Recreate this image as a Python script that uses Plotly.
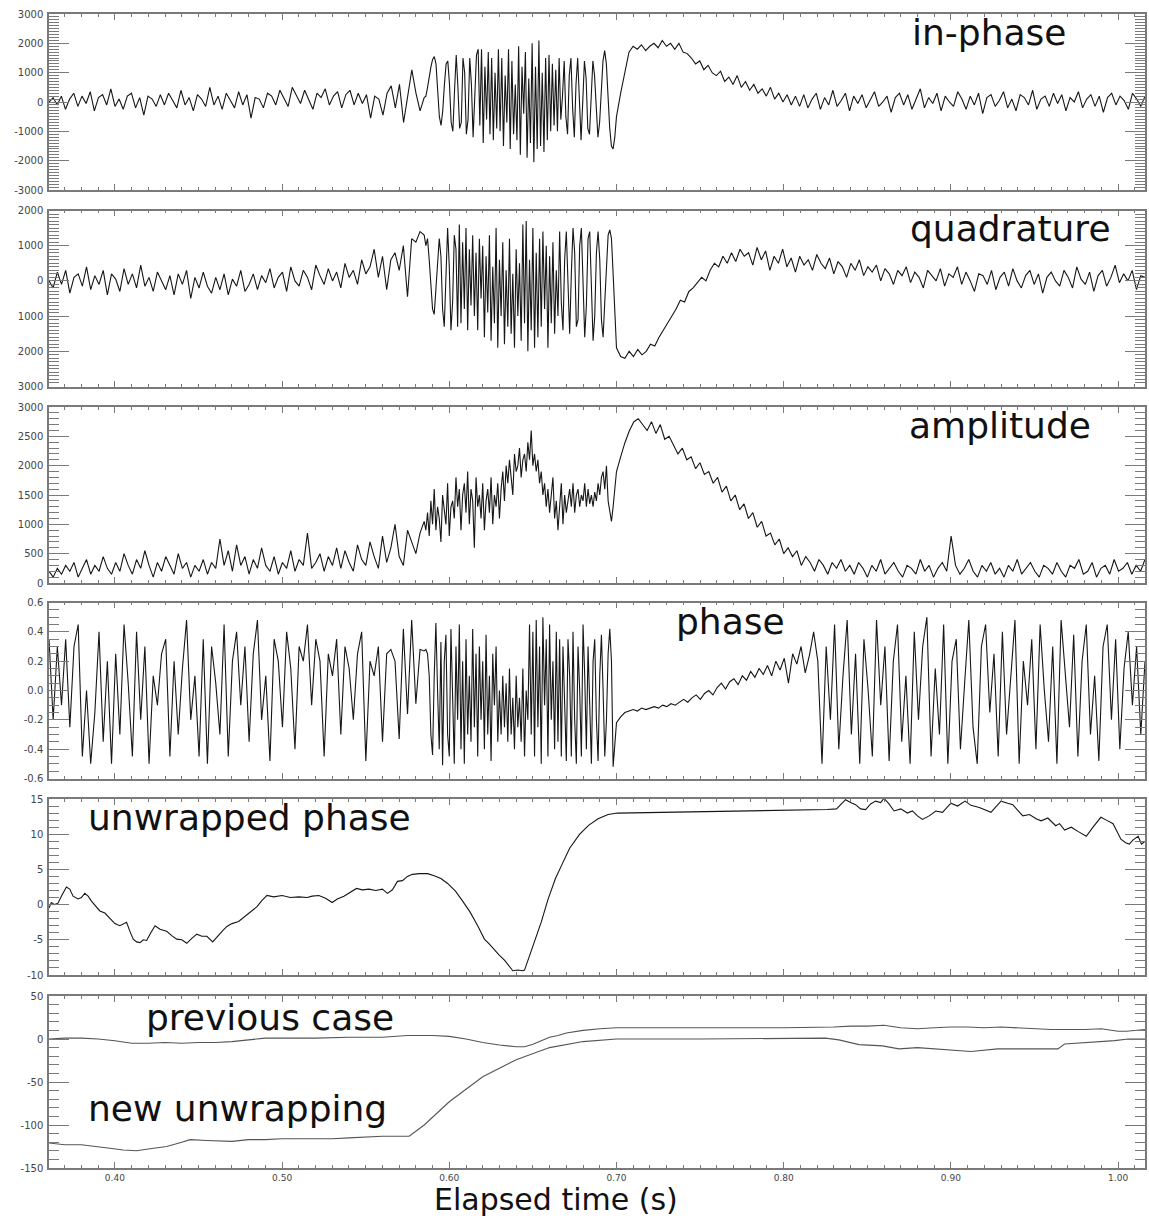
import numpy as np
import plotly.graph_objects as go

# ---------------- time segments (s) ----------------
SEG_A = (0.3606, 0.585)
SEG_B = (0.586, 0.700)
SEG_C = (0.7025, 1.0161)
X_RANGE = [0.3606, 1.0161]

# ---------------- in-phase ----------------
IP_A = [0, 150, -100, 200, -250, 100, 300, -150, 200, -50, 350, -300, 150, 250, -100, 450, -150, 100, -250, 200,
        300, -200, 150, -450, 200, 100, -150, 250, -100, 300, 50, -200, 400, -100, 150, -300, 250, 100, -150, 500,
        -100, 200, -250, 300, 50, -200, 350, -100, 250, -550, 150, 100, -200, 300, 200, -100, 400, 150, -150, 500,
        250, -50, 400, 100, -250, 300, 150, 450, -100, 200, 350, -200, 250, 400, -100, 300, -50, 250, -550, 200,
        100, -450, 300, 550, -200, 600, -700, 200, 1100, 300, -300, 150]
IP_B = [200, 500, 900, 1200, 1450, 1550, 1300, 400, -500, -800, -300, 600, 1300, 1400, 600, -700, -1000, 400, 1600, 500,
        -900, -700, 1500, 1000, -1100, -600, 1500, 600, -1200, 200, 1600, 1800, -800, 1800, -1400, 1200, -600, 1700, -1100, 1500,
        -1300, 1000, -900, 1800, -1000, 1500, -1500, 900, -700, 1800, -1600, 1400, -1100, 600, -1300, 1900, -1800, 1200, -400, 1700,
        -1900, 800, -1400, 2000, -2050, 1200, -1600, 2100, -1500, 1000, -1700, 1500, -1300, 1600, -1000, 1300, -800, 1100, -1000, 1500,
        -600, 200, 1400, -500, -1100, 900, 1500, -200, -1200, 600, 1500, 100, -1300, 0, 1400, 800, -900, -1100, 500, 1400,
        900, -400, -1200, -700, 500, 1400, 1750, 1300, 200, -900, -1500, -1600, -1200, -500]
IP_C = [300, 1000, 1700, 1900, 1800, 1950, 1750, 1900, 2000, 1850, 2100, 1900, 2000, 1800, 2000, 1700, 1650, 1500, 1300, 1400,
        1100, 1250, 1000, 900, 1050, 700, 850, 600, 900, 500, 700, 400, 600, 300, 450, 200, 500, 100, 300, 0,
        250, -100, 200, -150, 250, -200, 100, 300, -250, 150, -100, 400, -150, 50, 300, -300, 200, -50, 250, -200,
        100, 350, -150, 0, 200, -350, 150, 300, -100, 250, -250, 100, 450, -200, 150, -50, 300, -300, 200, 0,
        -150, 350, 100, -250, 200, -100, 300, -400, 150, 250, -150, 50, 350, -200, 100, -300, 250, 150, -100, 400,
        -250, 100, 200, -150, 300, -50, 250, -300, 150, 0, 350, -200, 100, 250, -150, 200, -350, 150, 300, -100,
        200, 50, -250, 300, 100, -150, 200]

# ---------------- quadrature ----------------
QD_A = [0, -200, 250, -100, 300, -350, 100, 200, -150, 400, -250, 150, -100, 300, -400, 200, 50, -300, 350, -100,
        200, -200, 450, -150, 100, -300, 250, 0, -250, 150, -400, 200, -100, 300, -500, 100, -200, 250, -150, -350,
        100, -250, 200, -400, 50, -150, 300, -300, -100, 200, -250, 150, -50, 350, -200, 100, 250, -300, 400, 0,
        -150, 300, 100, -250, 450, 150, -100, 350, 0, 250, -200, 500, 100, 300, -100, 600, 200, 400, 900, 100,
        700, -250, 600, 800, 300, 1000, -450, 1200, 1100, 1400, 1300]
QD_B = [1000, 1200, 600, -200, -800, -950, -300, 600, 1200, 700, -800, -1300, 200, 1500, 400, -1400, -600, 1300, 900, -1300,
        1600, -1200, 1100, -800, 1500, -1400, 900, -700, 1300, -1000, 800, -1400, 1200, -500, 1000, -1600, 700, -900, 1300, -1700,
        400, -1200, 1500, -1900, 600, -1000, 1100, -1800, 300, -1300, 1200, -1500, 200, -1900, 900, -1000, 500, -1700, 1600, -1200,
        1700, -2000, 600, -1400, 1500, -1900, 800, -1600, 1200, -1300, 1400, -800, 1000, -1900, 700, -1200, 1100, -1500, 300, -1000,
        1400, -600, -1400, 600, 1400, -300, -1500, 200, 1500, 800, -1300, -1100, 1000, 1500, -200, -1600, -700, 1200, 1400, -500,
        -1700, -1000, 800, 1400, 600, -1100, -1600, -600, 600, 1300, 1450, 1200, 200, -1000, -1900]
QD_C = [-2150, -2200, -2000, -2150, -1950, -2100, -2000, -1800, -1850, -1600, -1400, -1200, -1000, -800, -550, -600, -300, -200, -50, 100,
        0, 300, 500, 400, 700, 500, 800, 550, 900, 700, 800, 450, 950, 600, 850, 300, 700, 500, 900, 400,
        650, 250, 700, 450, 600, 300, 750, 500, 350, 650, 200, 550, 400, 100, 500, 300, 600, 150, 400, 250,
        450, 0, 350, 200, -100, 300, 150, 400, -50, 250, 100, -200, 300, 150, 0, 350, -150, 200, 100, 400,
        -100, 250, 0, -300, 200, 150, -100, 300, -250, 100, 250, -150, 350, 0, -200, 150, 300, -100, 200, -350,
        100, 250, 0, -150, 300, 100, -200, 400, 50, -100, 250, -300, 150, 300, -150, 100, 450, -50, 200, 0,
        300, -250, 150, 100]

# ---------------- amplitude ----------------
AM_A = [200, 100, 250, 150, 300, 200, 350, 100, 250, 400, 150, 300, 200, 450, 250, 150, 350, 200, 500, 300,
        150, 400, 250, 550, 300, 100, 350, 200, 450, 300, 150, 500, 250, 350, 100, 300, 200, 400, 150, 350,
        250, 750, 300, 550, 200, 650, 300, 450, 150, 400, 250, 600, 300, 200, 450, 150, 350, 250, 550, 200,
        400, 300, 850, 250, 350, 500, 200, 450, 300, 600, 250, 550, 350, 200, 650, 400, 300, 700, 450, 250,
        800, 350, 600, 1000, 450, 300, 900, 700, 500, 850, 1050]
AM_B = [900, 1200, 800, 1400, 1000, 1600, 900, 1300, 1100, 700, 1500, 1200, 1000, 1700, 800, 1300,
        1400, 1100, 1800, 1300, 1600, 900, 1500, 1700, 1200, 1900, 1000, 1600, 1400, 600, 1800, 1300, 1500, 1100, 1700,
        900, 1400, 1600, 1200, 1800, 1000, 1500, 1300, 1700, 1100,
        1600, 1900, 1400, 2000, 1700, 2100, 1800, 1500, 2200, 1900, 2000, 2300, 1800, 2100, 2200, 1900, 2400, 2100, 2600, 2000,
        2200, 1900, 2100, 1700, 1900, 1500, 1700, 1300, 1600, 1200, 1500, 1800, 1100, 1400, 900, 1300, 1700, 1000, 1500, 1200,
        1400, 1600, 1300, 1700, 1200, 1500, 1600, 1300, 1500, 1400, 1700, 1300, 1600, 1350, 1500, 1300, 1550, 1400, 1700, 1500,
        1800, 1900, 1600, 2000, 1400, 1200, 1050, 1300, 1600, 1900]
AM_C = [2150, 2400, 2600, 2750, 2800, 2700, 2600, 2750, 2550, 2700, 2450, 2500, 2350, 2200, 2300, 2100, 2150, 1950, 2050, 1850,
        1900, 1700, 1800, 1550, 1650, 1400, 1500, 1250, 1350, 1100, 1200, 950, 1050, 800, 850, 650, 750, 500, 600, 450,
        550, 300, 450, 350, 200, 400, 300, 150, 350, 250, 400, 200, 300, 150, 350, 250, 100, 300, 200, 400,
        150, 250, 350, 200, 100, 300, 250, 150, 400, 200, 300, 100, 250, 350, 200, 800, 300, 150, 250, 400,
        200, 100, 300, 200, 350, 150, 250, 100, 300, 200, 400, 150, 250, 350, 200, 100, 300, 250, 150, 350,
        200, 100, 300, 250, 400, 150, 200, 350, 100, 250, 300, 150, 400, 200, 250, 350, 150, 300, 200, 400]

# ---------------- phase ----------------
PH_A = [0.35, -0.2, 0.3, -0.1, 0.35, -0.25, 0.3, 0.45, -0.45, 0.0, -0.5, -0.15, 0.4, -0.35, 0.2, -0.5, 0.25, -0.3, 0.45, 0.05,
        -0.45, 0.4, -0.2, 0.3, -0.5, 0.1, -0.1, 0.25, 0.35, -0.45, 0.2, -0.3, 0.15, 0.48, -0.2, 0.1, -0.45, 0.35, -0.5, 0.3,
        0.05, -0.3, 0.45, -0.45, 0.2, 0.4, -0.1, 0.3, -0.35, 0.25, 0.48, -0.2, 0.1, -0.48, 0.35, 0.2, -0.25, 0.4, 0.15, -0.4,
        0.3, 0.2, 0.45, -0.1, 0.35, 0.2, -0.45, 0.25, 0.1, 0.35, -0.3, 0.3, 0.15, -0.2, 0.25, 0.4, -0.48, 0.2, 0.1, 0.3,
        -0.35, 0.25, 0.28, 0.2, -0.33, 0.42, -0.16, 0.48, -0.09, 0.28, 0.27]
PH_B = [0.28, 0.25, 0.1, -0.3, -0.44, 0.1, 0.46, 0.0, -0.40, 0.33, -0.51, 0.2, 0.38, -0.3, -0.45, 0.42, -0.1, -0.5, 0.3, -0.2,
        0.45, -0.4, 0.2, -0.5, 0.35, -0.3, 0.1, -0.35, 0.42, -0.25, 0.25, -0.45, 0.3, -0.2, 0.2, -0.4, 0.38, -0.3, 0.1, -0.48,
        0.25, -0.1, 0.3, -0.35, 0.0, -0.3, 0.1, -0.25, 0.05, -0.35, 0.15, -0.3, -0.05, -0.4, 0.1, -0.25, -0.05, -0.35, 0.15, -0.45,
        0.0, -0.2, 0.45, -0.3, 0.4, -0.45, 0.48, -0.25, 0.3, -0.5, 0.5, -0.1, 0.35, -0.45, 0.45, -0.2, 0.2, -0.4, 0.4, -0.35,
        0.35, -0.45, 0.3, -0.1, -0.48, 0.35, 0.1, -0.45, 0.4, -0.2, -0.5, 0.3, 0.0, -0.45, 0.45, 0.1, -0.4, 0.3, -0.1, -0.5,
        0.2, 0.35, -0.2, -0.48, 0.1, 0.38, 0.0, -0.45, -0.2, 0.25, 0.42, 0.2, -0.52, -0.35, -0.22]
PH_C = [-0.18, -0.15, -0.14, -0.13, -0.14, -0.12, -0.13, -0.12, -0.11, -0.12, -0.10, -0.11, -0.09, -0.10, -0.08, -0.06, -0.08, -0.05, -0.03, -0.06,
        -0.02, 0.0, -0.03, 0.02, 0.05, 0.01, 0.06, 0.08, 0.04, 0.1, 0.07, 0.13, 0.09, 0.15, 0.11, 0.17, 0.1, 0.2, 0.14, 0.22,
        0.05, 0.25, 0.18, 0.3, 0.12, 0.24, 0.4, 0.2,
        -0.5, 0.3, -0.2, 0.45, -0.4, 0.1, 0.48, -0.3, 0.25, -0.5, 0.35, 0.0, -0.45, 0.48, -0.1, 0.3, -0.48, 0.2, 0.45, -0.35,
        0.1, -0.5, 0.4, -0.2, 0.3, 0.5, -0.45, 0.15, -0.3, 0.45, -0.5, 0.2, 0.35, -0.4, 0.05, 0.48, -0.25, -0.5, 0.3, 0.45,
        -0.15, 0.25, -0.45, 0.4, -0.3, 0.1, 0.48, -0.5, 0.2, -0.1, 0.35, -0.4, 0.45, 0.0, -0.35, 0.3, -0.5, 0.48, 0.1, -0.25,
        0.38, -0.45, 0.2, 0.45, -0.3, 0.1, -0.48, 0.3, 0.45, -0.2, 0.35, -0.4, 0.15, 0.4, -0.1, 0.3, -0.3, 0.2]

# ---------------- unwrapped phase ----------------
UW_T = [0.3606, 0.362, 0.364, 0.366, 0.368, 0.371, 0.373, 0.375, 0.378, 0.380, 0.382, 0.384, 0.386, 0.388, 0.391, 0.394,
        0.397, 0.400, 0.403, 0.407, 0.409, 0.411, 0.413, 0.415, 0.417, 0.419, 0.421, 0.424, 0.427, 0.431, 0.434, 0.437,
        0.440, 0.443, 0.446, 0.449, 0.452, 0.455, 0.4585, 0.461, 0.4645, 0.467, 0.470, 0.474, 0.479, 0.482, 0.485, 0.488,
        0.491, 0.495, 0.500, 0.505, 0.510, 0.515, 0.518, 0.522, 0.526, 0.530, 0.533, 0.537, 0.540, 0.5445, 0.548, 0.552,
        0.556, 0.560, 0.563, 0.566, 0.569, 0.572, 0.575, 0.578, 0.582, 0.587, 0.591, 0.595, 0.599, 0.6037, 0.608, 0.6123,
        0.617, 0.621, 0.624, 0.6265, 0.630, 0.633, 0.635, 0.637, 0.638, 0.641, 0.644, 0.645, 0.650, 0.655, 0.659, 0.6635,
        0.668, 0.672, 0.678, 0.6835, 0.689, 0.695, 0.7006, 0.73, 0.77, 0.80, 0.826, 0.8316, 0.834, 0.837, 0.840, 0.843,
        0.846, 0.849, 0.852, 0.855, 0.858, 0.860, 0.863, 0.866, 0.870, 0.874, 0.877, 0.880, 0.883, 0.887, 0.891, 0.895,
        0.900, 0.904, 0.9085, 0.912, 0.917, 0.921, 0.924, 0.927, 0.930, 0.934, 0.937, 0.940, 0.943, 0.947, 0.951, 0.954,
        0.958, 0.9627, 0.965, 0.968, 0.972, 0.976, 0.981, 0.985, 0.9897, 0.993, 0.997, 1.0017, 1.0045, 1.0067, 1.009, 1.012,
        1.014, 1.0161]
UW_V = [-0.5, 0.3, 0.0, 0.2, 1.2, 2.5, 2.2, 1.2, 0.8, 1.0, 1.6, 1.2, 0.5, 0.0, -0.9, -1.2,
        -2.0, -2.7, -3.0, -2.5, -3.8, -4.9, -5.3, -5.4, -5.0, -5.1, -4.2, -3.0, -3.5, -3.8, -4.4, -4.9,
        -5.0, -5.5, -4.8, -4.2, -4.5, -4.5, -5.3, -4.6, -3.7, -3.1, -2.7, -2.4, -1.5, -0.9, -0.3, 0.6,
        1.3, 1.1, 1.3, 1.0, 1.1, 1.0, 1.2, 1.3, 0.9, 0.3, 0.8, 1.2, 1.6, 2.3, 2.1, 2.2,
        2.0, 2.2, 1.6, 2.1, 3.3, 3.4, 4.0, 4.3, 4.4, 4.4, 4.1, 3.7, 3.0, 1.9, 0.5, -1.0,
        -3.0, -4.9, -5.6, -6.3, -7.2, -7.9, -8.5, -9.1, -9.4, -9.3, -9.4, -9.3, -6.0, -2.5, 0.7, 3.7,
        6.0, 8.0, 10.0, 11.3, 12.2, 12.8, 13.0, 13.1, 13.3, 13.4, 13.5, 13.6, 14.2, 14.9, 14.5, 14.2,
        13.6, 13.5, 14.3, 14.7, 14.5, 15.1, 14.3, 13.3, 13.6, 13.0, 13.3, 12.6, 12.1, 12.6, 13.3, 13.1,
        14.4, 14.0, 14.7, 14.1, 13.8, 13.4, 13.1, 13.9, 14.7, 14.4, 14.2, 13.4, 12.6, 12.8, 12.2, 11.9,
        12.3, 11.2, 11.5, 10.6, 11.0, 10.4, 9.7, 11.0, 12.4, 12.0, 11.5, 9.3, 8.8, 8.6, 9.2, 9.7,
        8.6, 9.0]

# ---------------- previous case / new unwrapping ----------------
PC_T = [0.3606, 0.370, 0.380, 0.390, 0.400, 0.410, 0.420, 0.430, 0.440, 0.450, 0.460, 0.470, 0.480, 0.490, 0.500, 0.520,
        0.540, 0.560, 0.575, 0.590, 0.600, 0.610, 0.620, 0.630, 0.640, 0.645, 0.650, 0.655, 0.660, 0.665, 0.670, 0.680,
        0.690, 0.700, 0.750, 0.800, 0.830, 0.840, 0.850, 0.860, 0.870, 0.880, 0.890, 0.900, 0.910, 0.920, 0.930, 0.940,
        0.950, 0.960, 0.970, 0.980, 0.990, 1.000, 1.005, 1.010, 1.0161]
PC_V = [0, 1, 1, 0, -2, -5, -5, -4, -5, -4, -4, -3, -1, 1, 1, 1,
        2, 2, 4, 4, 3, 0, -4, -7, -9, -9, -6, -2, 2, 4, 7, 10,
        12, 13, 13, 13, 14, 15, 15, 16, 13, 12, 13, 14, 14, 13, 14, 13,
        12, 11, 11, 11, 12, 9, 9, 10, 11]
NU_T = [0.3606, 0.370, 0.380, 0.390, 0.397, 0.405, 0.413, 0.420, 0.431, 0.440, 0.445, 0.455, 0.470, 0.480, 0.490, 0.500,
        0.515, 0.530, 0.540, 0.550, 0.560, 0.576, 0.585, 0.600, 0.620, 0.640, 0.660, 0.680, 0.700, 0.750, 0.825, 0.833,
        0.845, 0.859, 0.869, 0.880, 0.8985, 0.912, 0.928, 0.964, 0.968, 0.978, 0.988, 0.998, 1.006, 1.0161]
NU_V = [-121, -123, -123, -125, -127, -129, -130, -128, -125, -120, -117, -118, -119, -117, -117, -116,
        -116, -116, -115, -114, -113, -113, -100, -73, -44, -24, -10, -3, 0, 0, 1, -1,
        -6.5, -8, -11.5, -10, -12.7, -14.6, -11.5, -11.5, -5.8, -4.6, -2.7, -1.9, 0, 0]

# ---------------- y-axis definitions ----------------
Y_RANGES = [[-3000, 3000], [-3000, 2000], [0, 3000], [-0.6, 0.6], [-10, 15], [-150, 50]]
Y_TICKVALS = [[-3000, -2000, -1000, 0, 1000, 2000, 3000],
              [-3000, -2000, -1000, 0, 1000, 2000],
              [0, 500, 1000, 1500, 2000, 2500, 3000],
              [-0.6, -0.4, -0.2, 0.0, 0.2, 0.4, 0.6],
              [-10, -5, 0, 5, 10, 15],
              [-150, -100, -50, 0, 50]]
Y_TICKTEXT = [["-3000", "-2000", "-1000", "0", "1000", "2000", "3000"],
              ["3000", "2000", "1000", "0", "1000", "2000"],
              ["0", "500", "1000", "1500", "2000", "2500", "3000"],
              ["-0.6", "-0.4", "-0.2", "0.0", "0.2", "0.4", "0.6"],
              ["-10", "-5", "0", "5", "10", "15"],
              ["-150", "-100", "-50", "0", "50"]]
Y_MINOR = [100, 100, 100, 0.05, 1, 10]
X_TICKVALS = [0.40, 0.50, 0.60, 0.70, 0.80, 0.90, 1.00]
X_TICKTEXT = ["0.40", "0.50", "0.60", "0.70", "0.80", "0.90", "1.00"]


def seg_time(a, b, c):
    return np.concatenate([np.linspace(SEG_A[0], SEG_A[1], len(a)),
                           np.linspace(SEG_B[0], SEG_B[1], len(b)),
                           np.linspace(SEG_C[0], SEG_C[1], len(c))])


W, H = 1149, 1218
ML, MR, MT, MB = 49, 2, 14, 50
PLOT_H = H - MT - MB
PANEL_TOPS = [14, 210.5, 407, 602.5, 799, 996]
PANEL_BOTS = [190, 386.5, 583, 778.5, 975, 1168]


def ydom(top, bot):
    y1 = (H - MB - top) / PLOT_H
    y0 = (H - MB - bot) / PLOT_H
    return [max(0, y0), min(1, y1)]


def px(x):
    return (x - ML) / (W - ML - MR)


def py(y):
    return (H - MB - y) / PLOT_H


fig = go.Figure()
LINE = dict(color="#161616", width=1.1)
series = [
    (seg_time(IP_A, IP_B, IP_C), IP_A + IP_B + IP_C),
    (seg_time(QD_A, QD_B, QD_C), QD_A + QD_B + QD_C),
    (seg_time(AM_A, AM_B, AM_C), AM_A + AM_B + AM_C),
    (seg_time(PH_A, PH_B, PH_C), PH_A + PH_B + PH_C),
    (UW_T, UW_V),
]
for i, (t, v) in enumerate(series):
    fig.add_trace(go.Scatter(x=t, y=v, mode="lines", line=LINE, xaxis=f"x{i+1}", yaxis=f"y{i+1}",
                             showlegend=False, hoverinfo="skip"))
fig.add_trace(go.Scatter(x=PC_T, y=PC_V, mode="lines", line=dict(color="#555", width=1.1),
                         xaxis="x6", yaxis="y6", showlegend=False, hoverinfo="skip"))
fig.add_trace(go.Scatter(x=NU_T, y=NU_V, mode="lines", line=dict(color="#555", width=1.1),
                         xaxis="x6", yaxis="y6", showlegend=False, hoverinfo="skip"))

AX_COL = "#7a7a7a"
TICK_FONT = dict(family="DejaVu Sans", size=10, color="#444")
X_TICK_FONT = dict(family="DejaVu Sans", size=9, color="#444")
layout = dict(width=W, height=H, margin=dict(l=ML, r=MR, t=MT, b=MB),
              paper_bgcolor="white", plot_bgcolor="white", showlegend=False)
for i in range(6):
    n = "" if i == 0 else str(i + 1)
    layout[f"xaxis{n}"] = dict(
        domain=[0, 1], range=X_RANGE, anchor=f"y{i+1}", showline=True, mirror="allticks",
        linecolor=AX_COL, linewidth=1.5, ticks="inside", ticklen=6, tickcolor=AX_COL,
        tickvals=X_TICKVALS, ticktext=X_TICKTEXT, showticklabels=(i == 5), tickfont=X_TICK_FONT,
        ticklabelstandoff=0, showgrid=False, zeroline=False,
        minor=dict(ticks="inside", ticklen=3, tickcolor=AX_COL, dtick=0.01, tick0=0.4, showgrid=False))
    layout[f"yaxis{n}"] = dict(
        domain=ydom(PANEL_TOPS[i], PANEL_BOTS[i]), range=Y_RANGES[i], anchor=f"x{i+1}", showline=True,
        mirror="allticks", linecolor=AX_COL, linewidth=1.5, ticks="inside", ticklen=20, tickcolor=AX_COL,
        tickvals=Y_TICKVALS[i], ticktext=Y_TICKTEXT[i], tickfont=TICK_FONT, ticklabelstandoff=2,
        showgrid=False, zeroline=False,
        minor=dict(ticks="inside", ticklen=10, tickcolor=AX_COL, dtick=Y_MINOR[i], tick0=0, showgrid=False))

LBL_FONT = dict(family="DejaVu Sans", size=36, color="#111")
labels = [("in-phase", 991, 33), ("quadrature", 1012, 228), ("amplitude", 1002, 425),
          ("phase", 732, 621), ("unwrapped phase", 250, 817), ("previous case", 270, 1017),
          ("new unwrapping", 238, 1108)]
annotations = []
for text, x, y in labels:
    annotations.append(dict(text=text, x=px(x), y=py(y), xref="paper", yref="paper",
                            xanchor="center", yanchor="middle", showarrow=False, font=LBL_FONT))
annotations.append(dict(text="Elapsed time (s)", x=px(557), y=py(1218), xref="paper", yref="paper",
                        xanchor="center", yanchor="bottom", showarrow=False, borderpad=0,
                        font=dict(family="DejaVu Sans", size=30, color="#111")))
layout["annotations"] = annotations
fig.update_layout(**layout)
fig.write_html("out.html")
